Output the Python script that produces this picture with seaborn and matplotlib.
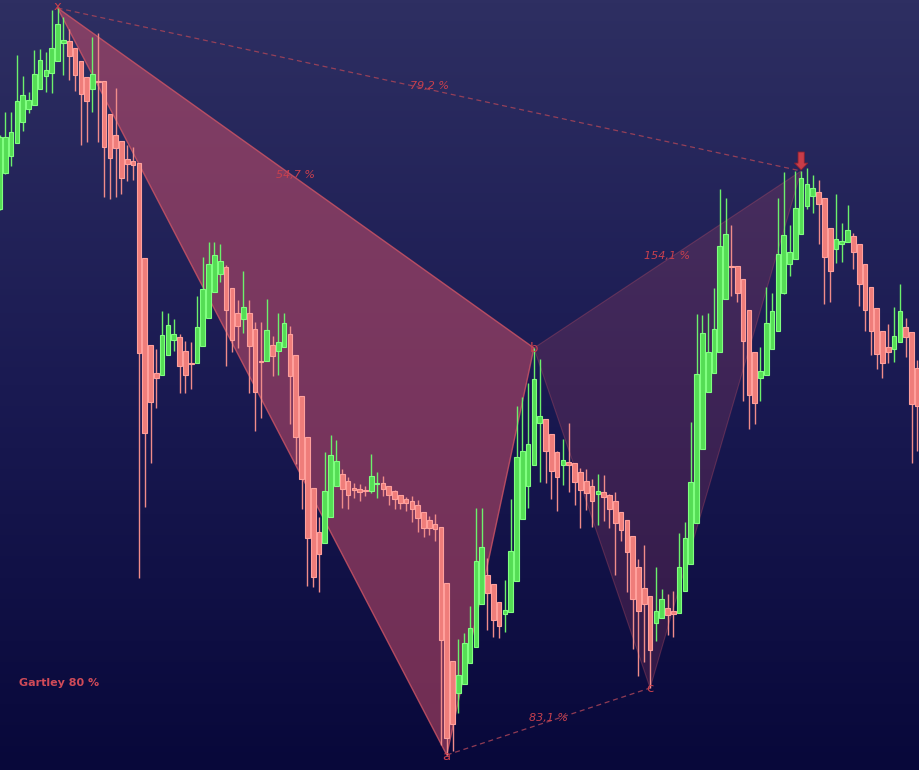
import numpy as np
import pandas as pd
import matplotlib
matplotlib.use("Agg")
import matplotlib.pyplot as plt
from matplotlib.colors import LinearSegmentedColormap
import seaborn as sns

# ---------------- data (price units) ----------------
opens = [591, 627, 644, 657, 678, 691, 695, 711, 724, 727, 739, 757, 759, 752, 739, 723, 711, 719, 719, 686,
         665, 659, 641, 639, 637, 542, 455, 427, 425, 445, 460, 463, 449, 437, 437, 454, 482, 508, 526, 533,
         512, 487, 481, 487, 471, 439, 439, 455, 449, 453, 466, 445, 404, 363, 312, 268, 257, 283, 314, 326,
         319, 312, 311, 310, 309, 316, 317, 314, 309, 305, 301, 299, 295, 288, 280, 276, 273, 217, 139, 107,
         116, 137, 153, 196, 225, 216, 198, 186, 188, 219, 281, 314, 335, 377, 381, 366, 348, 335, 338, 337,
         328, 319, 314, 306, 308, 305, 299, 288, 280, 264, 233, 212, 204, 177, 182, 192, 189, 187, 209, 236,
         277, 351, 408, 427, 448, 501, 534, 534, 521, 490, 448, 422, 425, 451, 469, 507, 536, 541, 566, 594,
         604, 608, 602, 572, 551, 556, 558, 564, 556, 536, 513, 492, 469, 453, 451, 458, 473, 468, 432]
highs = [665, 688, 688, 745, 724, 708, 750, 751, 748, 790, 792, 783, 771, 752, 739, 723, 763, 767, 719, 686,
         712, 659, 655, 653, 637, 542, 455, 451, 489, 487, 481, 466, 459, 458, 504, 543, 558, 558, 556, 535,
         512, 500, 529, 500, 478, 478, 501, 464, 487, 487, 474, 445, 404, 363, 312, 283, 348, 365, 360, 331,
         323, 317, 316, 314, 346, 328, 324, 314, 310, 305, 303, 304, 300, 288, 284, 286, 273, 217, 139, 161,
         167, 194, 292, 292, 242, 216, 198, 220, 301, 394, 403, 417, 452, 441, 381, 366, 349, 361, 377, 337,
         332, 331, 321, 326, 325, 306, 308, 288, 280, 264, 241, 255, 204, 233, 211, 206, 209, 267, 278, 378,
         486, 485, 487, 512, 611, 602, 575, 534, 521, 490, 448, 453, 513, 507, 602, 628, 575, 629, 629, 632,
         625, 620, 602, 572, 606, 577, 595, 567, 556, 536, 513, 492, 469, 476, 493, 516, 482, 468, 440]
lows = [590, 626, 634, 657, 669, 687, 695, 711, 708, 707, 739, 725, 720, 709, 655, 658, 688, 658, 603, 601,
        603, 606, 619, 620, 222, 293, 337, 392, 425, 445, 449, 407, 407, 411, 437, 454, 482, 508, 518, 434,
        448, 452, 467, 407, 369, 382, 439, 424, 425, 453, 376, 336, 291, 214, 213, 208, 257, 283, 314, 292,
        291, 302, 299, 304, 307, 302, 304, 295, 291, 291, 289, 278, 268, 263, 265, 259, 55, 45, 49, 87,
        116, 137, 153, 196, 170, 163, 162, 168, 188, 219, 281, 292, 335, 318, 317, 301, 289, 315, 308, 295,
        272, 290, 273, 275, 279, 272, 225, 259, 208, 151, 124, 138, 112, 159, 182, 165, 163, 187, 209, 236,
        277, 351, 408, 427, 448, 501, 504, 498, 399, 371, 376, 399, 425, 451, 469, 506, 524, 541, 566, 591,
        587, 556, 496, 498, 537, 538, 558, 531, 494, 469, 445, 431, 422, 437, 438, 458, 443, 337, 349]
closes = [663, 663, 668, 699, 705, 700, 726, 740, 730, 752, 776, 760, 744, 725, 706, 699, 726, 718, 653, 642,
          652, 622, 636, 635, 447, 367, 398, 422, 465, 475, 466, 434, 425, 436, 473, 511, 536, 545, 539, 490,
          460, 474, 493, 454, 408, 438, 470, 444, 458, 477, 424, 363, 321, 262, 223, 246, 309, 345, 339, 311,
          305, 310, 308, 309, 324, 317, 311, 305, 301, 297, 297, 291, 282, 272, 272, 271, 160, 62, 76, 125,
          157, 172, 239, 253, 207, 180, 174, 190, 249, 343, 349, 356, 421, 384, 349, 329, 323, 340, 335, 318,
          310, 307, 299, 309, 303, 291, 277, 270, 248, 201, 189, 196, 150, 189, 201, 185, 186, 233, 262, 318,
          426, 467, 448, 471, 554, 566, 533, 507, 459, 405, 397, 429, 477, 489, 546, 565, 548, 592, 622, 616,
          612, 596, 543, 529, 561, 559, 570, 548, 516, 490, 469, 446, 437, 448, 464, 489, 463, 396, 394]

# harmonic pattern pivots: candle index and which price (high/low)
pivot_names = ["x", "a", "b", "c", "d"]
pivot_idx = [10, 77, 92, 112, 138]
pivot_kind = ["high", "low", "high", "low", "high"]
ratio_labels = ["79,2 %", "54,7 %", "154,1 %", "83,1 %"]
pattern_title = "Gartley 80 %"

df = pd.DataFrame({"open": opens, "high": highs, "low": lows, "close": closes})
df["idx"] = np.arange(len(df))
df["up"] = df["close"] >= df["open"]

piv_x = np.array(pivot_idx, dtype=float)
piv_y = np.array([df["high"][i] if k == "high" else df["low"][i] for i, k in zip(pivot_idx, pivot_kind)], dtype=float)

# ---------------- figure ----------------
sns.set_style("dark")
plt.rcParams["font.family"] = ["DejaVu Sans"]
W, H = 920, 770
fig = plt.figure(figsize=(W / 100, H / 100), dpi=100)
ax = fig.add_axes([0, 0, 1, 1])
step = 5.809
x_lo, x_hi = 0.5 / step, (W + 0.5) / step
y_lo, y_hi = 30, 800
ax.set_xlim(x_lo, x_hi)
ax.set_ylim(y_lo, y_hi)
ax.axis("off")

# gradient background
cmap = LinearSegmentedColormap.from_list("bg", ["#08083a", "#1a1a52", "#2e2f62"])
grad = np.linspace(0, 1, 256).reshape(-1, 1)
ax.imshow(grad, cmap=cmap, aspect="auto", origin="lower",
          extent=[x_lo, x_hi, y_lo, y_hi], zorder=0)

pat = "#d0506a"
# XAB triangle
ax.fill(piv_x[[0, 1, 2]], piv_y[[0, 1, 2]], facecolor=pat, alpha=0.52, edgecolor="none", zorder=1)
ax.plot(piv_x[[0, 1, 2, 0]], piv_y[[0, 1, 2, 0]], color="#d05565", lw=1.0, alpha=0.8, zorder=1.1)
# BCD triangle
ax.fill(piv_x[[2, 3, 4]], piv_y[[2, 3, 4]], facecolor=pat, alpha=0.2, edgecolor="none", zorder=1)
ax.plot(piv_x[[2, 3, 4, 2]], piv_y[[2, 3, 4, 2]], color="#d05565", lw=0.8, alpha=0.3, zorder=1.1)

# dashed lines X-D and A-C
for a, b in [(0, 4), (1, 3)]:
    sns.lineplot(x=piv_x[[a, b]], y=piv_y[[a, b]], ax=ax, color="#a84458", lw=0.9,
                 linestyle=(0, (4, 3)), alpha=0.85, zorder=1.2, legend=False)

# ---------------- candles ----------------
green_fill, green_edge = "#55dd55", "#80ff80"
red_fill, red_edge = "#ef7d7a", "#ffa09c"
up = df[df["up"]]
dn = df[~df["up"]]
ax.vlines(up["idx"], up["low"], up["high"], color="#6cf06c", lw=1.0, zorder=2)
ax.vlines(dn["idx"], dn["low"], dn["high"], color="#f08c8a", lw=1.0, zorder=2)
bw = 0.8
ax.bar(up["idx"], np.maximum(up["close"] - up["open"], 1.2), bottom=up["open"], width=bw,
       color=green_fill, edgecolor=green_edge, linewidth=0.8, zorder=3)
ax.bar(dn["idx"], np.minimum(dn["close"] - dn["open"], -1.2), bottom=dn["open"], width=bw,
       color=red_fill, edgecolor=red_edge, linewidth=0.8, zorder=3)

# ---------------- labels ----------------
lab_col = "#c8404e"
for name, px, py, dy in zip(pivot_names[:4], piv_x[:4], piv_y[:4], [2, -2, 0, 0]):
    ax.text(px, py + dy, name, color=lab_col, fontsize=9.5, ha="center", va="center", zorder=5)

# arrow at D
ax.annotate("", xy=(piv_x[4], piv_y[4] + 1), xytext=(piv_x[4], piv_y[4] + 19),
            arrowprops=dict(facecolor="#c83c48", edgecolor="#8a2030", width=4.5,
                            headwidth=9.5, headlength=5, lw=0.6), zorder=5)

segs = [(0, 4), (0, 2), (2, 4), (1, 3)]
for (a, b), txt in zip(segs, ratio_labels):
    mx, my = (piv_x[a] + piv_x[b]) / 2, (piv_y[a] + piv_y[b]) / 2
    ax.text(mx, my + 3, txt, color=lab_col, fontsize=8, style="italic",
            ha="center", va="center", zorder=5)

ax.text(19 / W, 1 - 683 / H, pattern_title, transform=ax.transAxes, color="#d04a58",
        fontsize=8, fontweight="bold", ha="left", va="center", zorder=5)

fig.savefig("out.png", dpi=100)
